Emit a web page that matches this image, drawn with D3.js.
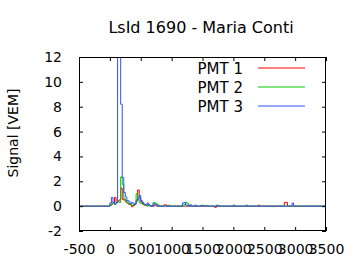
<!DOCTYPE html>
<html><head><meta charset="utf-8">
<script src="https://cdn.jsdelivr.net/npm/d3@7"></script>
<style>body{margin:0;background:#fff}svg{display:block}text{font-family:"DejaVu Sans",sans-serif;fill:#000}</style>
</head><body><svg id="c" width="360" height="270"></svg>
<script>
const title = "LsId 1690 - Maria Conti";
const yLabel = "Signal [VEM]";
const xTicks = [-500, 0, 500, 1000, 1500, 2000, 2500, 3000, 3500];
const yTicks = [-2, 0, 2, 4, 6, 8, 10, 12];
const seriesNames = ["PMT 1", "PMT 2", "PMT 3"];
const seriesColors = ["#ff0000", "#00c800", "#3050ff"];
const binWidth = 25;
// non-zero bins: start time (ns) and signal (VEM)
const pmt1Times = [0,25,50,75,100,125,150,175,200,225,250,275,300,325,350,375,400,425,450,475,500,525,550,575,600,625,675,725,750,875,900,1250,1700,2400,2825,2850];
const pmt1Vals  = [0.1,0.15,0.3,0.7,0.3,0.4,0.5,1.45,0.55,0.5,0.35,0.25,0.15,0.1,-0.05,0.05,0.15,0.5,1.3,0.7,0.35,0.15,0.1,0.05,0.1,0.1,0.05,0.1,0.1,0.1,0.1,0.05,-0.1,0.08,0.3,0.3];
const pmt2Times = [0,25,50,75,100,125,150,175,200,225,250,275,300,325,350,375,400,425,450,475,500,525,550,575,625,700,725,750,775,950,1200,1225,1250,1275,1500,1525,1550,1575,1750];
const pmt2Vals  = [0.05,0.2,0.3,0.15,0.3,0.35,0.3,2.35,1.75,0.6,0.45,0.3,0.2,0.15,0.05,0.1,0.2,1.0,0.55,0.3,0.2,0.25,0.1,0.05,0.1,0.3,0.25,0.15,0.1,0.08,0.15,0.3,0.2,0.1,0.05,0.05,0.05,0.05,0.05];
const pmt3Times = [0,25,50,75,100,125,150,175,200,225,250,275,300,325,350,375,400,425,450,475,500,525,550,575,600,625,700,725,1175,1200,1225,1300,1375,1475,1725,2000,2200,2950];
const pmt3Vals  = [0.25,0.7,0.3,0.15,0.3,14,14,8.2,2.3,1.1,0.75,0.45,0.4,0.2,0.3,0.15,0.2,0.4,0.6,0.85,0.45,0.3,0.15,0.1,0.25,0.1,0.2,0.15,0.25,0.3,0.1,0.1,0.08,0.08,0.08,0.08,0.08,0.25];

const svg = d3.select("#c");
const L = 79, R = 326, T = 57, B = 231;
const x = d3.scaleLinear().domain([-500, 3500]).range([L, R]);
const y = d3.scaleLinear().domain([-2, 12]).range([B, T]);

svg.append("defs").append("clipPath").attr("id","clip")
  .append("rect").attr("x",L).attr("y",T).attr("width",R-L).attr("height",B-T);

function buildSeries(times, vals){
  const m = new Map(times.map((t,i)=>[t, vals[i]]));
  const pts = [];
  for (let t = -500; t < 3500; t += binWidth) pts.push([t, m.has(t) ? m.get(t) : 0]);
  pts.push([3500, 0]);
  return pts;
}
const series = [buildSeries(pmt1Times,pmt1Vals), buildSeries(pmt2Times,pmt2Vals), buildSeries(pmt3Times,pmt3Vals)];
const line = d3.line().x(d=>x(d[0])).y(d=>y(d[1])).curve(d3.curveStepAfter);
const g = svg.append("g").attr("clip-path","url(#clip)");
series.forEach((s,i)=>{
  g.append("path").datum(s).attr("d", line).attr("fill","none")
   .attr("stroke", seriesColors[i]).attr("stroke-width",1);
});

const fmt = d => String(d);
const ax = svg.append("g");
ax.append("g").attr("transform",`translate(0,${B})`)
  .call(d3.axisBottom(x).tickValues(xTicks).tickSizeInner(-4).tickSizeOuter(0).tickPadding(13).tickFormat(fmt));
ax.append("g").attr("transform",`translate(0,${T})`)
  .call(d3.axisTop(x).tickValues(xTicks).tickSizeInner(-4).tickSizeOuter(0).tickFormat(""));
ax.append("g").attr("transform",`translate(${L},0)`)
  .call(d3.axisLeft(y).tickValues(yTicks).tickSizeInner(-4).tickSizeOuter(0).tickPadding(17).tickFormat(fmt));
ax.append("g").attr("transform",`translate(${R},0)`)
  .call(d3.axisRight(y).tickValues(yTicks).tickSizeInner(-4).tickSizeOuter(0).tickFormat(""));
ax.selectAll(".domain").remove();
ax.selectAll(".tick line").attr("stroke","#000");
ax.selectAll(".tick text").style("font-size","14px").style("font-family","DejaVu Sans").attr("fill","#000");
svg.append("rect").attr("x",L+0.5).attr("y",T+0.5).attr("width",R-L-1).attr("height",B-T-1)
  .attr("fill","none").attr("stroke","#000").attr("stroke-width",1);

svg.append("text").attr("x",201).attr("y",33).attr("text-anchor","middle").style("font-size","16px").text(title);
svg.append("text").attr("transform","translate(18,133) rotate(-90)").attr("text-anchor","middle").style("font-size","14px").text(yLabel);

seriesNames.forEach((n,i)=>{
  const yy = 68 + i*19;
  svg.append("text").attr("x",243).attr("y",yy+5.5).attr("text-anchor","end").style("font-size","15px").text(n);
  svg.append("line").attr("x1",258).attr("x2",305).attr("y1",yy).attr("y2",yy).attr("stroke",seriesColors[i]).attr("stroke-width",1);
});
</script></body></html>
